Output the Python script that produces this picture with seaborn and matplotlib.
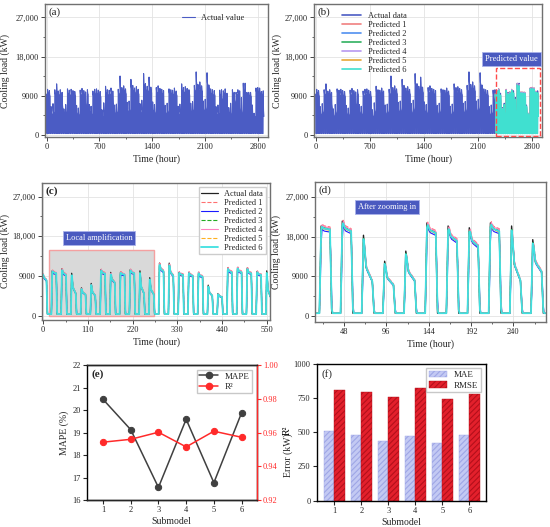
import numpy as np
import pandas as pd
import seaborn as sns
import matplotlib.pyplot as plt
from matplotlib.patches import Rectangle, Patch
from matplotlib.lines import Line2D
from matplotlib.ticker import MultipleLocator

sns.set_style("ticks")
plt.rcParams['font.family'] = ['Liberation Serif', 'DejaVu Serif']
plt.rcParams['hatch.linewidth'] = 0.8

# ---------------- data ----------------
# daily peak and end-of-working-day load (kW) of the training part, one row = one week
train_peak = [10300, 10500, 10200, 6500, 7200, 10400, 11750,
              10100, 10400, 9800, 6000, 7000, 10600, 10300,
              10500, 10200, 10000, 6800, 6200, 10300, 10700,
              10200, 9900, 10400, 7000, 6600, 10100, 10500,
              10600, 10300, 10000, 5800, 7400, 11200, 10400,
              10300, 10800, 10100, 6900, 7100, 10500, 13560,
              10900, 11300, 10600, 7500, 7800, 12780, 11400,
              10800, 11100, 10500, 7200, 8000, 14100, 11800,
              11200, 13300, 11000, 7600, 7000, 10900, 11300,
              10700, 10500, 10200, 6800, 7300, 10600, 10400,
              10300, 10800, 10100, 6600, 7100, 11750, 10900,
              11100, 10700, 10400, 7300, 7700, 11400, 14500,
              11600, 12200, 11300, 7800, 8200, 14300, 11500,
              10600, 10400, 10200, 6500, 6900, 10300, 10400]
train_late = [9400, 9600, 8900, 4600, 5000, 9300, 9800,
              9200, 9300, 6200, 4300, 4900, 9500, 9100,
              9500, 9000, 8800, 4700, 4500, 9200, 9400,
              9100, 6500, 9300, 5000, 4600, 9000, 9300,
              9500, 9200, 8700, 4200, 5200, 9600, 9200,
              9300, 9700, 6400, 4800, 5000, 9400, 10200,
              9800, 10000, 9400, 5300, 5400, 10500, 10000,
              9600, 9900, 9300, 5000, 5600, 11000, 10200,
              10000, 10600, 9700, 5300, 4900, 9700, 9900,
              9500, 9300, 6300, 4800, 5100, 9400, 9200,
              9200, 9600, 9000, 4600, 5000, 10000, 9700,
              9900, 9500, 9200, 5100, 5400, 10100, 11500,
              10300, 10500, 10000, 5500, 5700, 11400, 10200,
              9400, 9200, 9000, 4600, 4800, 9100, 8000]
# test part (panel c), one value per day
test_peak = [10400, 10150, 10600, 9600, 6300, 7300, 10400, 9800, 9800, 10400, 10150, 8600,
             11900, 11900, 9800, 9800, 9800, 6900, 5000, 10800, 10900, 10800, 10000, 10150]
test_late = [8000, 9600, 9200, 5000, 4800, 4500, 9500, 7500, 9300, 9600, 5000, 4800,
             10000, 9000, 9200, 9000, 8800, 4500, 4200, 9800, 9800, 9500, 9200, 4000]
# panel (d), days 1-11
zoom_peak = [20400, 21500, 18300, 12400, 14700, 21100, 20400, 20000, 21100, 20400, 17300]
zoom_late = [19600, 19200, 7800, 7000, 8000, 18800, 17000, 15800, 19200, 8000, 10000]
base_load = 350
zoom_base = 600

# shape of one day (clock hour -> share of peak / end-of-day value)
prof_hour = [0, 6, 7, 8, 11, 18, 19, 20, 24]
prof_w_peak = [0, 0, 0.5, 1, 0.3, 0, 0, 0, 0]
prof_w_late = [0, 0, 0, 0, 0.7, 1, 0.5, 0, 0]

# six submodels: gain and weight on the current hour
pred_scale = [1.03, 0.97, 1.01, 1.02, 0.99, 1.0]
pred_mix = [0.8, 0.65, 0.9, 0.75, 0.85, 0.9]

submodel = [1, 2, 3, 4, 5, 6]
mape = [20.48, 19.13, 16.56, 19.59, 16.77, 19.88]
r2 = [0.9543, 0.9560, 0.9602, 0.9515, 0.9608, 0.9572]
mae = [506, 477, 433, 474, 425, 482]
rmse = [812, 795, 755, 824, 743, 780]


def daily_curve(hours, shift, peaks, lates, base):
    h = hours + shift
    day = h // 24
    clock = h % 24
    wp = np.interp(clock, prof_hour, prof_w_peak)
    wl = np.interp(clock, prof_hour, prof_w_late)
    p = np.asarray(peaks, float)[day]
    q = np.asarray(lates, float)[day]
    return base * (1 - wp - wl) + p * wp + q * wl


def predict(y, k):
    prev = np.r_[y[0], y[:-1]]
    return pred_scale[k] * (pred_mix[k] * y + (1 - pred_mix[k]) * prev)


train_hours = np.arange(2320)
test_hours = np.arange(560)
zoom_hours = np.arange(15, 277)
train_load = daily_curve(train_hours, 18, train_peak, train_late, base_load)
test_load = daily_curve(test_hours, 10, test_peak, test_late, base_load)
zoom_load = daily_curve(zoom_hours, -14, zoom_peak, zoom_late, zoom_base)
all_hours = np.arange(2880)
all_load = np.r_[train_load, test_load]

blue = '#4b5cc4'
b_colors = ['#f08080', '#5090f0', '#30b060', '#b898f0', '#e8a838', '#40e0d0']
c_colors = ['#ff7070', '#1a1aff', '#22aa22', '#ff80c0', '#ffb020', '#40e0e0']
c_ls = ['--', '-', '--', '-', '--', '-']
yt = [0, 9000, 18000, 27000]
ytl = ['0', '9000', '18,000', '27,000']

fig = plt.figure(figsize=(5.5, 5.27), dpi=100)
ax_a = fig.add_axes([0.0818, 0.740, 0.405, 0.252])
ax_b = fig.add_axes([0.571, 0.740, 0.415, 0.252])
ax_c = fig.add_axes([0.0764, 0.393, 0.4145, 0.260])
ax_d = fig.add_axes([0.5727, 0.389, 0.42, 0.2657])
ax_e = fig.add_axes([0.158, 0.0512, 0.309, 0.256])
ax_f = fig.add_axes([0.576, 0.050, 0.307, 0.2594])


def style_ts(ax, tag, ylab_x, bold=False):
    ax.grid(True, color='#e3e3e3', lw=0.6)
    ax.set_axisbelow(True)
    for s in ax.spines.values():
        s.set_color('#707070')
        s.set_linewidth(1.0)
    ax.set_yticks(yt)
    ax.set_yticklabels(ytl)
    ax.yaxis.set_minor_locator(MultipleLocator(4500))
    ax.tick_params(which='major', direction='out', length=3, width=0.6, labelsize=6, pad=1.5)
    ax.tick_params(which='minor', direction='out', length=1.5, width=0.5)
    ax.set_xlabel('Time (hour)', fontsize=7, labelpad=2)
    ax.set_ylabel('Cooling load (kW)', fontsize=7)
    ax.yaxis.set_label_coords(ylab_x, 0.5)
    ax.text(0.015, 0.975, tag, transform=ax.transAxes, va='top', fontsize=8,
            fontweight='bold' if bold else 'normal')


def label_box(ax, x, y, s):
    ax.text(x, y, s, color='white', fontsize=6, ha='center', va='center', zorder=6,
            bbox=dict(boxstyle='square,pad=0.35', fc='#4a5ac0', ec='#aab2ea', lw=0.6))


# (a)
sns.lineplot(x=all_hours, y=all_load, ax=ax_a, color=blue, lw=0.8, estimator=None, sort=False,
             label='Actual value')
ax_a.set_xlim(-20, 2930)
ax_a.set_ylim(-460, 30050)
ax_a.set_xticks([0, 700, 1400, 2100, 2800])
ax_a.xaxis.set_minor_locator(MultipleLocator(350))
style_ts(ax_a, '(a)', -0.155)
ax_a.legend(loc='upper right', bbox_to_anchor=(0.93, 0.98), frameon=False, fontsize=6,
            handlelength=1.5)

# (b)
sns.lineplot(x=all_hours, y=all_load, ax=ax_b, color=blue, lw=0.8, estimator=None, sort=False,
             label='Actual data')
for k in range(6):
    sns.lineplot(x=test_hours + 2320, y=predict(test_load, k), ax=ax_b, color=b_colors[k],
                 lw=1.0 if k == 5 else 0.6, estimator=None, sort=False,
                 label='Predicted %d' % (k + 1))
ax_b.add_patch(Rectangle((2330, -250), 575, 15700, fill=False, ec='#ff4b4b', ls='--', lw=1.0,
                         zorder=5))
label_box(ax_b, 2530, 17400, 'Predicted value')
ax_b.set_xlim(-20, 2930)
ax_b.set_ylim(-460, 30050)
ax_b.set_xticks([0, 700, 1400, 2100, 2800])
ax_b.xaxis.set_minor_locator(MultipleLocator(350))
style_ts(ax_b, '(b)', -0.142)
leg = ax_b.legend(loc='upper left', bbox_to_anchor=(0.09, 1.0), frameon=False, fontsize=6,
                  labelspacing=0.12, handlelength=2.3)
for ln in leg.get_lines():
    ln.set_linewidth(1.2)

# (c)
ax_c.add_patch(Rectangle((15, -100), 258, 14900, fc='#d9d9d9', ec='#f4a0a0', lw=1.0, zorder=1))
sns.lineplot(x=test_hours, y=test_load, ax=ax_c, color='#222222', lw=0.9, estimator=None,
             sort=False, label='Actual data', zorder=2)
for k in range(6):
    sns.lineplot(x=test_hours, y=predict(test_load, k), ax=ax_c, color=c_colors[k],
                 ls=c_ls[k], lw=1.3 if k == 5 else 0.8, estimator=None, sort=False,
                 label='Predicted %d' % (k + 1), zorder=2)
label_box(ax_c, 137, 17600, 'Local amplification')
ax_c.set_xlim(-3, 558)
ax_c.set_ylim(-975, 30100)
ax_c.set_xticks([0, 110, 220, 330, 440, 550])
ax_c.xaxis.set_minor_locator(MultipleLocator(55))
style_ts(ax_c, '(c)', -0.14, bold=True)
ax_c.legend(loc='upper right', fontsize=6, labelspacing=0.12, handlelength=2.0,
            fancybox=False, edgecolor='#cccccc', framealpha=1, borderpad=0.3)

# (d)
sns.lineplot(x=zoom_hours, y=zoom_load, ax=ax_d, color='#222222', lw=1.0, estimator=None,
             sort=False)
for k in range(6):
    sns.lineplot(x=zoom_hours, y=predict(zoom_load, k), ax=ax_d, color=c_colors[k],
                 ls=c_ls[k], lw=1.3 if k == 5 else 0.8, estimator=None, sort=False)
label_box(ax_d, 97, 24800, 'After zooming in')
ax_d.set_xlim(15, 277)
ax_d.set_ylim(-1400, 30400)
ax_d.set_xticks([48, 96, 144, 192, 240])
ax_d.xaxis.set_minor_locator(MultipleLocator(24))
style_ts(ax_d, '(d)', -0.147)

# (e)
red = '#ff2a2a'
sns.lineplot(x=submodel, y=mape, ax=ax_e, color='#404040', lw=1.1, marker='o', markersize=4.5,
             markeredgecolor='#404040')
ax_e2 = ax_e.twinx()
sns.lineplot(x=submodel, y=r2, ax=ax_e2, color=red, lw=1.1, marker='o', markersize=4.5,
             markeredgecolor=red)
ax_e.set_xlim(0.42, 6.55)
ax_e.set_ylim(16, 22)
ax_e2.set_ylim(0.92, 1.00)
ax_e.set_xticks(submodel)
ax_e2.set_yticks([0.92, 0.94, 0.96, 0.98, 1.00])
ax_e2.set_yticklabels(['0.92', '0.94', '0.96', '0.98', '1.00'])
ax_e.tick_params(direction='out', length=3, width=0.8, labelsize=6, pad=1.5)
ax_e2.tick_params(direction='out', length=3, width=0.8, labelsize=6, pad=1.5,
                  colors=red)
for s in ax_e.spines.values():
    s.set_color('black')
    s.set_linewidth(1.0)
for s in ax_e2.spines.values():
    s.set_linewidth(1.0)
ax_e2.spines['right'].set_color(red)
ax_e2.spines['left'].set_visible(False)
ax_e.set_xlabel('Submodel', fontsize=7, labelpad=2)
ax_e.set_ylabel('MAPE (%)', fontsize=7, labelpad=2)
ax_e2.set_ylabel('R²', fontsize=7, color='black')
ax_e2.yaxis.set_label_coords(1.15, 0.52)
ax_e.text(0.03, 0.965, '(e)', transform=ax_e.transAxes, va='top', fontsize=8,
          fontweight='bold')
ax_e.legend(handles=[Line2D([], [], color='#404040', marker='o', ms=4.5, lw=1.1),
                     Line2D([], [], color=red, marker='o', ms=4.5, lw=1.1)],
            labels=['MAPE', 'R²'], loc='upper right', fontsize=6.5, fancybox=False,
            edgecolor='#bbbbbb', handlelength=2.0, labelspacing=0.2, borderpad=0.3)

# (f)
err = pd.DataFrame({'Submodel': submodel * 2,
                    'value': mae + rmse,
                    'metric': ['MAE'] * 6 + ['RMSE'] * 6})
bar_face = ['#c3c9f3', '#e3202c']
bar_hatch = ['#9ea6e6', '#b3101b']
sns.barplot(data=err, x='Submodel', y='value', hue='metric', palette=bar_face, ax=ax_f,
            width=0.8, saturation=1, legend=False)
for cont, hc in zip(ax_f.containers, bar_hatch):
    for bar in cont:
        bar.set_hatch('//////')
        bar.set_edgecolor(hc)
        bar.set_linewidth(0.3)
ax_f.set_xlim(-0.65, 5.6)
ax_f.set_ylim(0, 1000)
ax_f.set_yticks([0, 250, 500, 750, 1000])
ax_f.tick_params(direction='out', length=3, width=0.8, labelsize=6, pad=1.5)
for s in ax_f.spines.values():
    s.set_visible(True)
    s.set_color('black')
    s.set_linewidth(1.0)
ax_f.set_xlabel('Submodel', fontsize=7, labelpad=2)
ax_f.set_ylabel('Error (kW)', fontsize=7)
ax_f.yaxis.set_label_coords(-0.14, 0.33)
ax_f.text(0.03, 0.965, '(f)', transform=ax_f.transAxes, va='top', fontsize=8)
ax_f.legend(handles=[Patch(fc=bar_face[0], ec=bar_hatch[0], hatch='//////', lw=0.3),
                     Patch(fc=bar_face[1], ec=bar_hatch[1], hatch='//////', lw=0.3)],
            labels=['MAE', 'RMSE'], loc='upper right', fontsize=6.5, fancybox=False,
            edgecolor='#bbbbbb', handlelength=2.0, labelspacing=0.2, borderpad=0.3)

fig.savefig('out.png', dpi=100)
